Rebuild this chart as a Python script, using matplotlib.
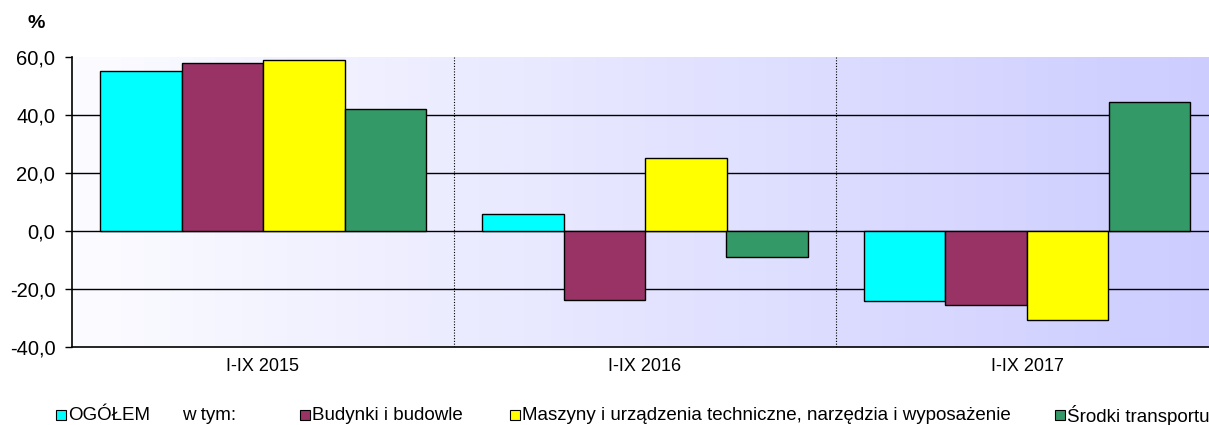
import numpy as np
import matplotlib.pyplot as plt
from matplotlib.patches import Rectangle
from matplotlib.colors import LinearSegmentedColormap

plt.rcParams['font.family'] = ['Liberation Sans', 'DejaVu Sans']
plt.rcParams['font.size'] = 13

# --- dane ---
okresy = ['I-IX 2015', 'I-IX 2016', 'I-IX 2017']
serie = ['OGÓŁEM', 'Budynki i budowle',
         'Maszyny i urządzenia techniczne, narzędzia i wyposażenie',
         'Środki transportu']
ogolem = [55.2, 5.9, -24.1]
budynki = [57.9, -23.8, -25.5]
maszyny = [59.0, 25.2, -30.7]
transport = [42.1, -9.0, 44.4]
kolory = ['#00FFFF', '#993366', '#FFFF00', '#339966']

fig = plt.figure(figsize=(12.09, 4.25), dpi=100)
ax = fig.add_axes([72 / 1209, 1 - 347 / 425, (1209 - 72) / 1209, 290 / 425])

xmax = 2.5 - 9 / 382
ax.set_xlim(-0.5, xmax)
ax.set_ylim(-40, 60)

# tło z gradientem
cmap = LinearSegmentedColormap.from_list('bg', ['#FCFCFF', '#CCCCFF'])
grad = np.linspace(0, 1, 256).reshape(1, -1)
ax.imshow(grad, extent=[-0.5, 2.5, -40, 60], aspect='auto', cmap=cmap, zorder=0)

# linie siatki
for yv in [-20, 0, 20, 40]:
    ax.axhline(yv, color='black', lw=1, zorder=1)
for xv in [0.5, 1.5]:
    ax.axvline(xv, color='black', lw=0.8, ls=(0, (1, 1.5)), zorder=1)

x = np.arange(len(okresy))
w = 81.5 / 382
for i, (vals, c) in enumerate(zip([ogolem, budynki, maszyny, transport], kolory)):
    ax.bar(x + (i - 1.5) * w, vals, width=w, color=c, edgecolor='black', lw=1, zorder=2)

ax.set_xticks(x)
ax.set_xticklabels(okresy, fontsize=13)
ax.tick_params(axis='x', length=0, pad=8)
ax.set_yticks([-40, -20, 0, 20, 40, 60])
ax.set_yticklabels(['-40,0', '-20,0', '0,0', '20,0', '40,0', '60,0'], fontsize=14.5)
ax.tick_params(axis='y', direction='out', length=5, width=1, pad=7)

for s in ['top', 'right']:
    ax.spines[s].set_visible(False)
ax.spines['left'].set_linewidth(1.2)
ax.spines['bottom'].set_linewidth(1.2)

fig.text(36 / 1209, 1 - 24 / 425, '%', fontsize=14, fontweight='bold', ha='center', va='center')

# legenda
leg_y = 1 - 415 / 425
pozycje = [(56, serie[0], kolory[0]), (300, serie[1], kolory[1]),
           (510, serie[2], kolory[2]), (1055, serie[3], kolory[3])]
for px, lab, c in pozycje:
    fig.patches.append(Rectangle((px / 1209, leg_y - 5 / 425), 10 / 1209, 10 / 425,
                                 transform=fig.transFigure, facecolor=c,
                                 edgecolor='black', lw=0.8))
    fig.text((px + 12) / 1209, leg_y, lab, fontsize=13.5, va='center', ha='left')
fig.text(182 / 1209, leg_y, 'w tym:', fontsize=13.5, va='center', ha='left')

fig.savefig('out.png', dpi=100)
